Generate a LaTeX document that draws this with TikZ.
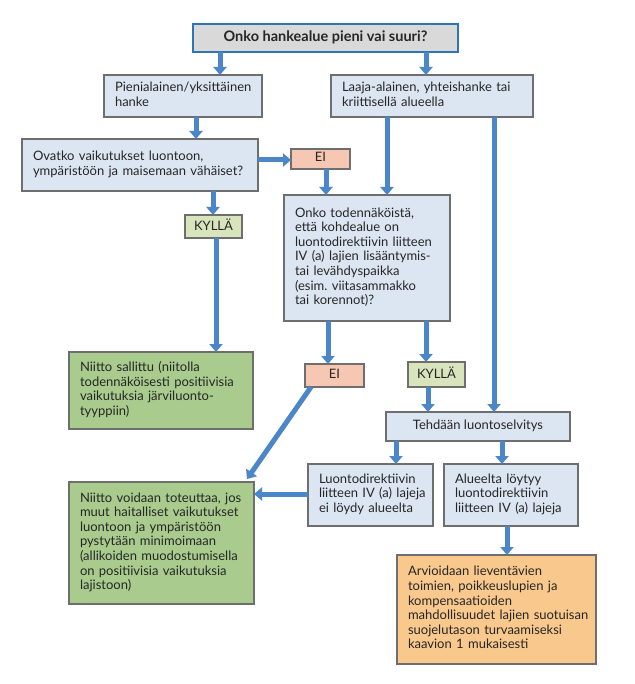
\documentclass[tikz,border=0pt]{standalone}
\usepackage{fontspec}
\setmainfont{Lato}
\usetikzlibrary{arrows.meta}
\definecolor{arrowblue}{RGB}{74,134,200}
\definecolor{topblue}{RGB}{46,117,182}
\definecolor{topgray}{RGB}{217,217,217}
\definecolor{lblue}{RGB}{220,230,242}
\definecolor{pinkfill}{RGB}{246,200,180}
\definecolor{lgreen}{RGB}{216,228,188}
\definecolor{mgreen}{RGB}{169,204,142}
\definecolor{orangefill}{RGB}{249,200,140}
\definecolor{edgegray}{RGB}{110,110,110}
\definecolor{txt}{RGB}{38,38,38}
\newcommand\boxat[7]{%
  \pgfmathsetmacro\bw{#5-#3}\pgfmathsetmacro\bh{#6-#4}\pgfmathsetmacro\tw{#5-#3-22}%
  \node[minimum width=\bw pt, minimum height=\bh pt, anchor=north west, #2] (#1) at (#3,#4)
    {\begin{tabular}{@{}l@{}}#7\end{tabular}};}
\begin{document}
\begin{tikzpicture}[x=1pt,y=-1pt,
  base/.style={draw=edgegray, line width=1.2pt, inner xsep=11pt, inner ysep=1pt, outer sep=0pt,
    text=txt, font=\fontsize{13}{14.6}\selectfont},
  lbase/.style={base, text width=\tw pt, align=left},
  topbox/.style={base, draw=topblue, line width=2.8pt, fill=topgray, font=\bfseries\fontsize{14.5}{16}\selectfont},
  qbox/.style={lbase, fill=lblue},
  cbox/.style={base, fill=lblue},
  eibox/.style={base, fill=pinkfill, inner xsep=1pt},
  kbox/.style={base, fill=lgreen, inner xsep=1pt},
  gbox/.style={lbase, fill=mgreen},
  obox/.style={lbase, fill=orangefill},
  arr/.style={draw=arrowblue, line width=5pt, -{Triangle[width=13pt,length=8pt]}}]
\fill[white] (0,0) rectangle (634,684);
\useasboundingbox (0,0) rectangle (634,684);

\boxat{top}{topbox}{193}{24}{458}{52}{Onko hankealue pieni vai suuri?}
\boxat{pien}{qbox}{104}{75}{262}{117}{Pienialainen/yksittäinen\\hanke}
\boxat{laaja}{qbox}{331}{75}{533}{117}{Laaja-alainen, yhteishanke tai\\kriittisellä alueella}
\boxat{ovatko}{qbox}{22}{139}{258}{191}{Ovatko vaikutukset luontoon,\\ympäristöön ja maisemaan vähäiset?}
\boxat{eia}{eibox}{291}{149}{350}{169}{EI}
\boxat{kyllaa}{kbox}{185}{215}{242}{238}{KYLLÄ}
\boxat{onko}{qbox}{284}{195}{450}{321}{Onko todennäköistä,\\että kohdealue on\\luontodirektiivin liitteen\\IV (a) lajien lisääntymis-\\tai levähdyspaikka\\(esim.\ viitasammakko\\tai korennot)?}
\boxat{sallittu}{gbox}{69}{352}{253}{429}{Niitto sallittu (niitolla\\todennäköisesti positiivisia\\vaikutuksia järviluonto-\\tyyppiin)}
\boxat{eib}{eibox}{305}{364}{364}{387}{EI}
\boxat{kyllab}{kbox}{408}{362}{465}{387}{KYLLÄ}
\boxat{tehdaan}{cbox}{386}{412}{570}{441}{Tehdään luontoselvitys}
\boxat{luonto}{qbox}{308}{464}{433}{526}{Luontodirektiivin\\liitteen IV (a) lajeja\\ei löydy alueelta}
\boxat{alueelta}{qbox}{444}{464}{578}{526}{Alueelta löytyy\\luontodirektiivin\\liitteen IV (a) lajeja}
\boxat{arvio}{obox}{397}{555}{596}{664}{Arvioidaan lieventävien\\toimien, poikkeuslupien ja\\kompensaatioiden\\mahdollisuudet lajien suotuisan\\suojelutason turvaamiseksi\\kaavion 1 mukaisesti}
\boxat{voidaan}{gbox}{69}{482}{254}{604}{Niitto voidaan toteuttaa, jos\\muut haitalliset vaikutukset\\luontoon ja ympäristöön\\pystytään minimoimaan\\(allikoiden muodostumisella\\on positiivisia vaikutuksia\\lajistoon)}

\draw[arr] (top.south -| 220,0) -- (pien.north -| 220,0);
\draw[arr] (top.south -| 426,0) -- (laaja.north -| 426,0);
\draw[arr] (pien.south -| 196,0) -- (ovatko.north -| 196,0);
\draw[arr] (ovatko.east |- 0,160) -- (eia.west |- 0,160);
\draw[arr] (eia.south -| 326,0) -- (onko.north -| 326,0);
\draw[arr] (laaja.south -| 387,0) -- (onko.north -| 387,0);
\draw[arr] (laaja.south -| 494,0) -- (tehdaan.north -| 494,0);
\draw[arr] (ovatko.south -| 213,0) -- (kyllaa.north -| 213,0);
\draw[arr] (kyllaa.south -| 216,0) -- (sallittu.north -| 216,0);
\draw[arr] (onko.south -| 328,0) -- (eib.north -| 328,0);
\draw[arr] (onko.south -| 426,0) -- (kyllab.north -| 426,0);
\draw[arr] (kyllab.south -| 428,0) -- (tehdaan.north -| 428,0);
\draw[arr] (tehdaan.south -| 396,0) -- (luonto.north -| 396,0);
\draw[arr] (tehdaan.south -| 502,0) -- (alueelta.north -| 502,0);
\draw[arr] (alueelta.south -| 507,0) -- (arvio.north -| 507,0);
\draw[arr] (luonto.west |- 0,494) -- (voidaan.east |- 0,494);
\draw[arr] ([xshift=6pt]eib.south west) -- ([xshift=-7pt,yshift=3pt]voidaan.north east);
\end{tikzpicture}
\end{document}
